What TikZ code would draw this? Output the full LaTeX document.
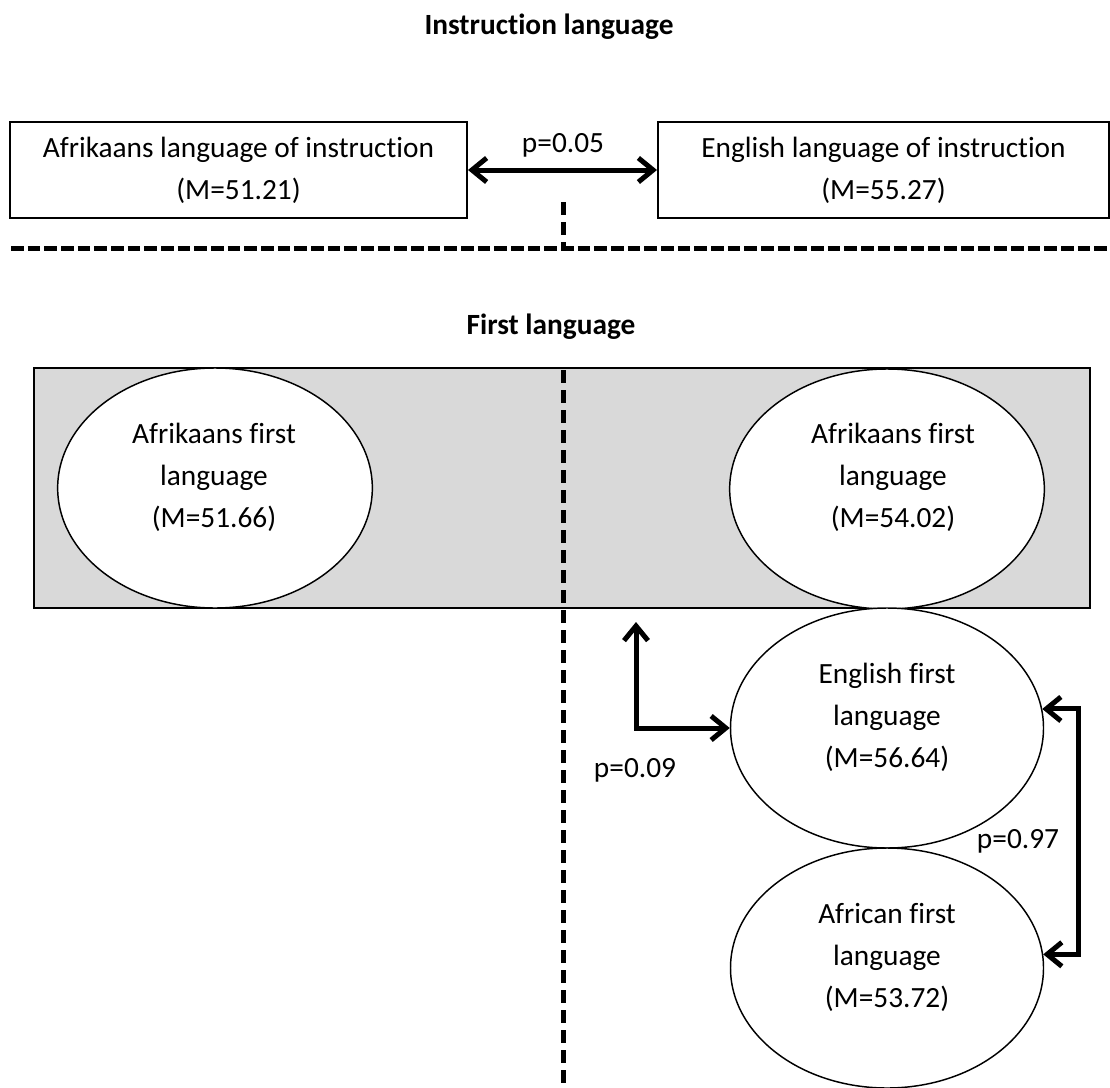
\documentclass[tikz,border=0pt]{standalone}
\usepackage{fontspec}
\setmainfont{Carlito}[Ligatures=NoCommon]
\usetikzlibrary{arrows.meta,shapes.geometric}
\definecolor{panel}{HTML}{D9D9D9}
\begin{document}
\begin{tikzpicture}[x=0.75pt,y=-0.75pt,
  every node/.style={font=\fontsize{22}{31.5}\selectfont, inner sep=0pt},
  txt/.style={align=center},
  ttl/.style={font=\fontsize{22}{31.5}\selectfont\bfseries},
  ibox/.style={draw, line width=1.5pt, fill=white, minimum height=72pt, align=center},
  oval/.style={draw, ellipse, line width=1.1pt, fill=white, minimum width=236pt, minimum height=180pt},
  arr/.style={line width=3.75pt, line join=miter, {Straight Barb[length=11pt,width=18pt]}-{Straight Barb[length=11pt,width=18pt]}},
  hdash/.style={line width=3.75pt, dash pattern=on 9.4pt off 3.1pt},
  vdash/.style={line width=3.75pt, dash pattern=on 10pt off 5pt},
]
\useasboundingbox (0,0) rectangle (1110,1088);

% ---- Instruction language ----
\node[ttl] (t1) at (549,27) {Instruction language};
\node[ibox, minimum width=342.75pt] (boxA) at (238.5,170) {Afrikaans language of instruction\\(M=51.21)};
\node[ibox, minimum width=338.25pt] (boxE) at (883.5,170) {English language of instruction\\(M=55.27)};
\draw[arr] (boxA.east) -- (boxE.west);
\node[txt] (p1) at (563,145) {p=0.05};

\coordinate (s1) at (563,202);
\coordinate (s2) at (563,248);
\draw[vdash] (s1) -- (s2);
\coordinate (h1) at (11,248);
\coordinate (h2) at (1110,248);
\draw[hdash] (h1) -- (h2);

% ---- First language ----
\node[ttl] (t2) at (551,327) {First language};
\node[draw, line width=1.5pt, fill=panel, minimum width=792pt, minimum height=180pt] (grp) at (562,488) {};

\coordinate (v1) at (563,370);
\coordinate (v2) at (563,1085);
\draw[vdash] (v1) -- (v2);

\node[oval] (e1) at (215,488) {};
\node[txt] (e1t) at (214,477) {Afrikaans first\\language\\(M=51.66)};
\node[oval] (e2) at (887,489) {};
\node[txt] (e2t) at (893,477) {Afrikaans first\\language\\(M=54.02)};
\node[oval, minimum width=234.75pt] (e3) at (887,728) {};
\node[txt] (e3t) at (887,717) {English first\\language\\(M=56.64)};
\node[oval, minimum width=234.75pt] (e4) at (887,968) {};
\node[txt] (e4t) at (887,957) {African first\\language\\(M=53.72)};

% p=0.09 connector
\coordinate (a1) at (636,622);
\draw[arr] (a1) |- (e3.west);
\node[txt] (p2) at (635,770) {p=0.09};

% p=0.97 connector
\coordinate (r1) at (1078,707);
\draw[arr] (e3.7.8) -- (e3.7.8 -| r1) |- (e4.5.9);
\node[txt] (p3) at (1018,841) {p=0.97};
\end{tikzpicture}
\end{document}
